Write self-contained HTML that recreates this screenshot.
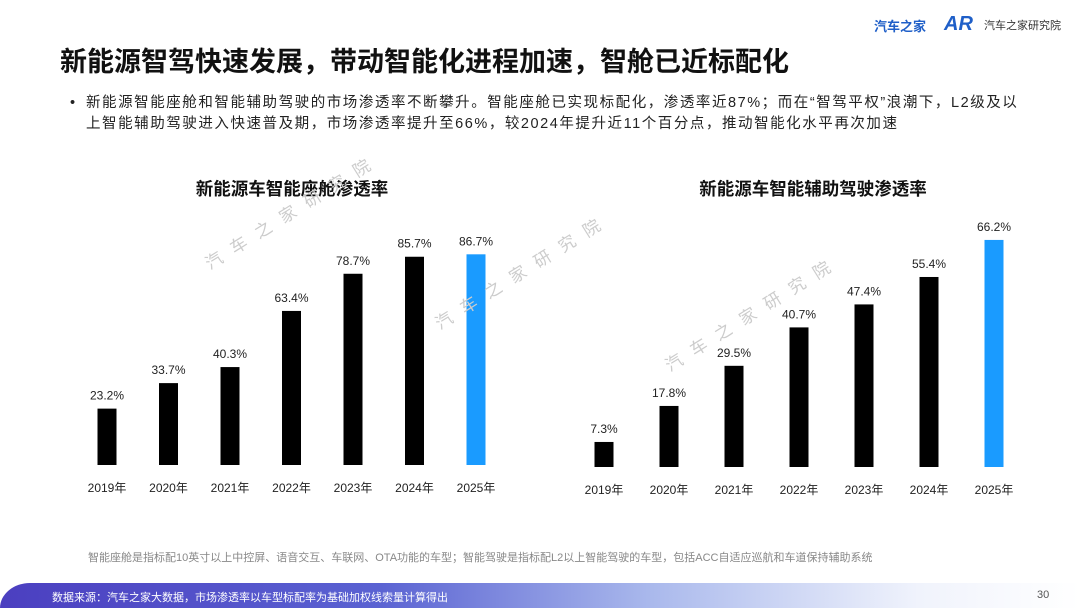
<!DOCTYPE html>
<html><head><meta charset="utf-8"><style>
body{margin:0;width:1080px;height:608px;overflow:hidden;background:#fff;font-family:"Liberation Sans","Noto Sans CJK SC",sans-serif;position:relative}
.abs{position:absolute}
</style></head><body>
<div class="abs" style="left:60px;top:40px;font-size:27px;font-weight:bold;color:#111;white-space:nowrap">新能源智驾快速发展，带动智能化进程加速，智舱已近标配化</div>
<div class="abs" style="left:874px;top:16px;font-size:13px;font-weight:bold;color:#1f5fc8">汽车之家</div>
<div class="abs" style="left:944px;top:13px;font-size:20px;font-weight:bold;color:#1f5fc8;font-style:italic">AR</div>
<div class="abs" style="left:984px;top:17px;font-size:11px;color:#333">汽车之家研究院</div>
<div class="abs" style="left:70px;top:93px;width:1000px;font-size:14.5px;letter-spacing:1.55px;line-height:21px;color:#222;white-space:nowrap">
<span style="position:absolute;left:0">•</span><div style="padding-left:16px">新能源智能座舱和智能辅助驾驶的市场渗透率不断攀升。智能座舱已实现标配化，渗透率近87%；而在“智驾平权”浪潮下，L2级及以<br>上智能辅助驾驶进入快速普及期，市场渗透率提升至66%，较2024年提升近11个百分点，推动智能化水平再次加速</div></div>
<svg id="ch" class="abs" style="left:0;top:0" width="1080" height="608"></svg>
<div class="abs" style="left:88px;top:549px;font-size:11px;color:#888">智能座舱是指标配10英寸以上中控屏、语音交互、车联网、OTA功能的车型；智能驾驶是指标配L2以上智能驾驶的车型，包括ACC自适应巡航和车道保持辅助系统</div>
<div class="abs" style="left:0;top:583px;width:1080px;height:25px;border-top-left-radius:30px 25px;background:linear-gradient(90deg,#4b3fc0 0%,#5a62d2 35%,#a9b8ec 60%,#f0f3fc 85%,#fff 100%)"></div>
<div class="abs" style="left:52px;top:589px;font-size:11px;color:#fff">数据来源：汽车之家大数据，市场渗透率以车型标配率为基础加权线索量计算得出</div>
<div class="abs" style="left:1037px;top:589px;font-size:11px;color:#555">30</div>
<script>
const years=["2019年","2020年","2021年","2022年","2023年","2024年","2025年"];
const cabinValues=[23.2,33.7,40.3,63.4,78.7,85.7,86.7];
const adasValues=[7.3,17.8,29.5,40.7,47.4,55.4,66.2];
const NS="http://www.w3.org/2000/svg";
const svg=document.getElementById("ch");
function mk(t,a,txt){const e=document.createElementNS(NS,t);for(const k in a)e.setAttribute(k,a[k]);if(txt!=null)e.textContent=txt;svg.appendChild(e);return e;}
function chart(vals,x0,step,base,scale,title,tx,key){
  const t=mk("text",{x:tx,y:195,"text-anchor":"middle","font-size":17.5,"font-weight":"bold",fill:"#111"},title);
  
  
  vals.forEach((v,i)=>{
    const cx=x0+i*step,h=v*scale,last=i===vals.length-1;
    const r=mk("rect",{x:cx-9.5,y:base-h,width:19,height:h,fill:last?"#1a9bff":"#000"});
    
    
    const l=mk("text",{x:cx,y:base-h-9,"text-anchor":"middle","font-size":12,fill:"#222"},v.toFixed(1)+"%");
    
    
    const y=mk("text",{x:cx,y:base+27,"text-anchor":"middle","font-size":12,fill:"#222"},years[i]);
    
    
  });
}
chart(cabinValues,107,61.5,465,2.43,"新能源车智能座舱渗透率",292,"cabin");
chart(adasValues,604,65,467,3.43,"新能源车智能辅助驾驶渗透率",813,"adas");
[[210,270],[440,330],[670,372]].forEach(p=>{
  const w=mk("text",{x:p[0],y:p[1],"font-size":17,fill:"#ccc","letter-spacing":"12",transform:`rotate(-32 ${p[0]} ${p[1]})`},"汽车之家研究院");
  
  
});
</script>
</body></html>
